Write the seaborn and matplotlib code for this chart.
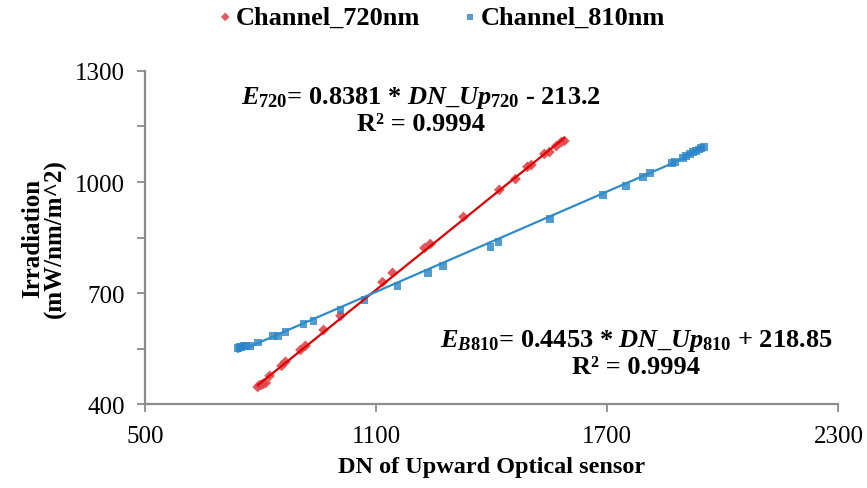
import matplotlib
matplotlib.use("Agg")
import pandas as pd
import seaborn as sns
import matplotlib.pyplot as plt

# Data --------------------------------------------------------------------------

dn_720 = [793, 798, 803, 808, 814, 824, 855, 865, 904, 917, 964, 1008, 1117, 1143,
          1226, 1241, 1327, 1420, 1462, 1493, 1503, 1537, 1550, 1568, 1581, 1589]
irr_720 = [447, 452, 453, 456, 458, 477, 504, 515, 547, 558, 601, 639, 730, 755,
           822, 833, 906, 979, 1008, 1041, 1046, 1076, 1081, 1097, 1108, 1111]

dn_810 = [741, 746, 751, 756, 762, 772, 793, 832, 845, 865, 912, 938, 1008, 1070,
          1156, 1234, 1275, 1397, 1418, 1552, 1690, 1749, 1793, 1812, 1869, 1875,
          1897, 1905, 1915, 1922, 1931, 1938, 1944, 1951]
irr_810 = [553, 555, 556, 557, 557, 558, 567, 585, 585, 596, 617, 625, 655, 682,
           720, 755, 774, 825, 838, 901, 965, 990, 1014, 1025, 1052, 1055,
           1065, 1070, 1076, 1080, 1084, 1088, 1092, 1095]

x_ticks = [500, 1100, 1700, 2300]
y_ticks = [400, 700, 1000, 1300]
y_minor = [550, 850, 1150]

eq_720 = r"$E_{720}$= 0.8381 * $DN\_Up_{720}$ - 213.2" + "\nR² = 0.9994"
eq_810 = r"$E_{B810}$= 0.4453 * $DN\_Up_{810}$ + 218.85" + "\nR² = 0.9994"

df_720 = pd.DataFrame({"dn": dn_720, "irr": irr_720})
df_810 = pd.DataFrame({"dn": dn_810, "irr": irr_810})

# Style -------------------------------------------------------------------------

sns.set_theme(style="white")
plt.rcParams["font.family"] = ["Liberation Serif", "DejaVu Serif"]
plt.rcParams["text.color"] = "black"
plt.rcParams["axes.labelcolor"] = "black"
plt.rcParams["mathtext.fontset"] = "custom"
plt.rcParams["mathtext.rm"] = "Liberation Serif:bold"
plt.rcParams["mathtext.it"] = "Liberation Serif:bold:italic"
plt.rcParams["mathtext.bf"] = "Liberation Serif:bold"

red_pt, red_ln = "#E0484C", "#E00000"
blue_pt, blue_ln = "#2A83C6", "#2E8BCB"
grey = "#8C8C8C"

# Plot --------------------------------------------------------------------------

fig = plt.figure(figsize = (8.67, 4.89), dpi = 100)
ax = fig.add_axes([0.167, 0.171, 0.800, 0.682])

sns.regplot(data = df_720, x = "dn", y = "irr", ci = None, marker = "D", ax = ax,
            label = "Channel_720nm",
            scatter_kws = dict(s = 30, color = red_pt, edgecolor = "none", alpha = 0.9),
            line_kws = dict(color = red_ln, lw = 1.6))
sns.regplot(data = df_810, x = "dn", y = "irr", ci = None, marker = "s", ax = ax,
            label = "Channel_810nm",
            scatter_kws = dict(s = 32, color = blue_pt, edgecolor = "none"),
            line_kws = dict(color = blue_ln, lw = 1.6))

ax.set_xlim(x_ticks[0], x_ticks[-1])
ax.set_ylim(y_ticks[0], y_ticks[-1])
ax.set_xticks(x_ticks)
ax.set_yticks(y_ticks)
ax.set_yticks(y_minor, minor = True)

for side in ["top", "right"]:
    ax.spines[side].set_visible(False)
for side in ["left", "bottom"]:
    ax.spines[side].set_color(grey)
    ax.spines[side].set_linewidth(1.6)

ax.tick_params(axis = "both", which = "major", direction = "out", color = grey,
               width = 1.3, length = 6, labelsize = 18, labelcolor = "black",
               left = True, bottom = True)
ax.tick_params(axis = "x", which = "major", pad = 9)
ax.tick_params(axis = "y", which = "major", pad = 8)
ax.tick_params(axis = "y", which = "minor", direction = "out", color = grey,
               width = 1.3, length = 6, left = True)

ax.set_xlabel("DN of Upward Optical sensor", fontsize = 17.5, fontweight = "bold", labelpad = 6)
ax.set_ylabel("Irradiation\n(mW/nm/m^2)", fontsize = 18, fontweight = "bold", labelpad = 6,
              linespacing = 0.95)

ax.text(1216, 1195, eq_720, ha = "center", va = "center", fontsize = 19,
        fontweight = "bold", linespacing = 1.1)
ax.text(1775, 540, eq_810, ha = "center", va = "center", fontsize = 19,
        fontweight = "bold", linespacing = 1.1)

handles, labels = ax.get_legend_handles_labels()
fig.legend(handles, labels, loc = "center", bbox_to_anchor = (0.509, 0.963), ncol = 2,
           frameon = False, prop = dict(size = 19, weight = "bold"), handletextpad = 0.1,
           columnspacing = 1.6, handlelength = 0.6, borderaxespad = 0, markerscale = 0.8)

fig.savefig("out.png", dpi = 100)
